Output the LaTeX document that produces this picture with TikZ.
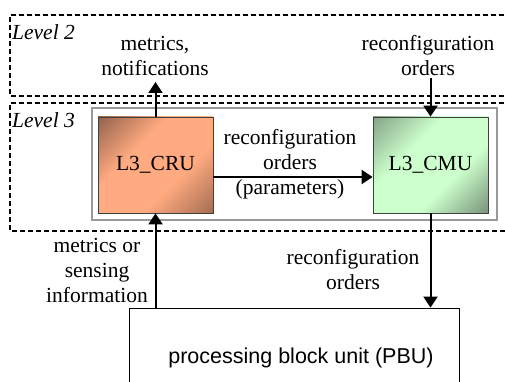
\documentclass[tikz,border=0pt]{standalone}
\usepackage{fontspec}
\setmainfont{Liberation Serif}
\newfontfamily\arialf{Liberation Sans}
\usetikzlibrary{arrows.meta}
\definecolor{cruL}{HTML}{FFAA80}
\definecolor{cruD}{HTML}{6E4838}
\definecolor{cmuL}{HTML}{CCFFCC}
\definecolor{cmuD}{HTML}{5A6C5C}
\pgfdeclareverticalshading{crushade}{100bp}{color(0bp)=(cruD!85!cruL); color(6bp)=(cruD!85!cruL); color(38bp)=(cruL); color(62bp)=(cruL); color(94bp)=(cruD); color(100bp)=(cruD)}
\pgfdeclareverticalshading{cmushade}{100bp}{color(0bp)=(cmuD); color(6bp)=(cmuD); color(38bp)=(cmuL); color(62bp)=(cmuL); color(94bp)=(cmuD!85!cmuL); color(100bp)=(cmuD!85!cmuL)}
\begin{document}
\begin{tikzpicture}[x=1pt,y=-1pt,
  lvl/.style={draw=black, line width=1.6pt, dash pattern=on 5pt off 3pt},
  unit/.style={draw=black!75, line width=0.8pt, minimum width=115pt, minimum height=96pt, inner sep=0pt, font=\fontsize{21.5}{25}\selectfont},
  lbl/.style={align=center, font=\fontsize{21.5}{25}\selectfont, inner sep=0pt},
  arr/.style={line width=2pt, -{Triangle[length=11pt,width=14pt]}},
  ]
\useasboundingbox (0,0) rectangle (505,382);
\fill[white] (0,0) rectangle (505,382);
\draw[lvl] (520,15) -- (10,15) -- (10,96) -- (520,96);
\draw[lvl] (520,103) -- (10,103) -- (10,231) -- (520,231);
\node[draw=gray!80, line width=1.2pt, minimum width=405pt, minimum height=112pt, inner sep=0pt] (frame) at (294.5,164) {};
\node[unit, shading=crushade, shading angle=45] (cru) at (155.5,165) {L3\_CRU};
\node[unit, shading=cmushade, shading angle=45] (cmu) at (430.5,165) {L3\_CMU};
\node[draw, line width=0.8pt, minimum width=330pt, minimum height=100pt, inner sep=0pt] (pbu) at (294,358) {};
\node[lbl, font=\fontsize{21.5}{25}\arialf] (pbut) at (301,358) {processing block unit (PBU)};
\coordinate (mtop) at (155.5,82);
\coordinate (rtop) at (430.5,78);
\draw[arr] (cru.north) -- (mtop);
\draw[arr] (rtop) -- (cmu.north);
\draw[arr] ([yshift=-12pt]cru.east) -- ([yshift=-12pt]cmu.west);
\draw[arr] (pbu.north -| cru) -- (cru.south);
\draw[arr] (cmu.south) -- (pbu.north -| cmu);
\node[lbl, anchor=west] (l2) at (12,32) {\itshape Level 2};
\node[lbl, anchor=west] (l3) at (12,120) {\itshape Level 3};
\node[lbl] (mn) at (155,56) {metrics,\\notifications};
\node[lbl] (ro1) at (428,56) {reconfiguration\\orders};
\node[lbl] (rop) at (290,164) {reconfiguration\\orders\\(parameters)};
\node[lbl] (ms) at (97,270) {metrics or\\sensing\\information};
\node[lbl] (ro2) at (353,270) {reconfiguration\\orders};
\end{tikzpicture}
\end{document}
